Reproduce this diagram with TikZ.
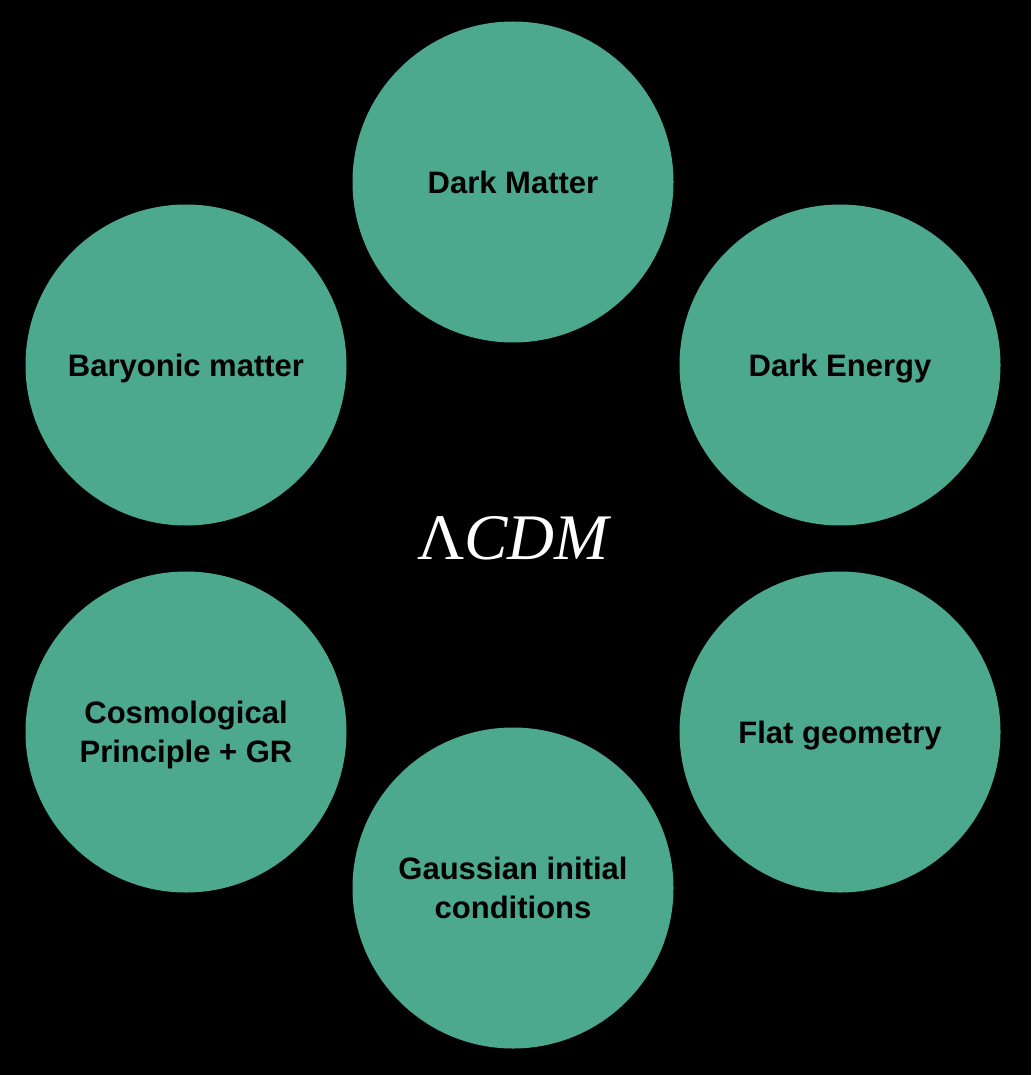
\documentclass[tikz,border=0pt]{standalone}
\usepackage{fontspec}
\setmainfont{Liberation Sans}
\newfontfamily\lcdmfont{Liberation Serif}
\usepackage{tikz}
\definecolor{ballgreen}{RGB}{77,169,142}
\newcommand{\balltext}[1]{\raisebox{-3.5pt}[\height][\depth]{\begin{tabular}{@{}c@{}}#1\end{tabular}}}

\begin{document}
\begin{tikzpicture}[x=1pt,y=-1pt]
    \tikzset{ball/.style = {shape=circle,fill=ballgreen,draw=none,minimum size=321pt,inner sep=0pt,
        align=center,text=black,font=\fontsize{31}{38.5}\selectfont\bfseries}}
    \tikzset{title/.style = {shape=rectangle,draw=none,text=white,inner sep=0pt,
        font=\fontsize{65}{70}\selectfont\lcdmfont}}

    % background
    \fill[black] (0,0) rectangle (1031,1075);

    % vertices
    \node[ball] (dm) at (513,182) {\balltext{Dark Matter}};
    \node[ball] (bm) at (186,365) {\balltext{Baryonic matter}};
    \node[ball] (de) at (840,365) {\balltext{Dark Energy}};
    \node[ball] (cp) at (186,732) {\balltext{Cosmological\\Principle + GR}};
    \node[ball] (fg) at (840,732) {\balltext{Flat geometry}};
    \node[ball] (gic) at (513,888) {\balltext{Gaussian initial\\conditions}};

    \node[title] (lcdm) at (513,538) {Λ\itshape CDM};
\end{tikzpicture}
\end{document}
